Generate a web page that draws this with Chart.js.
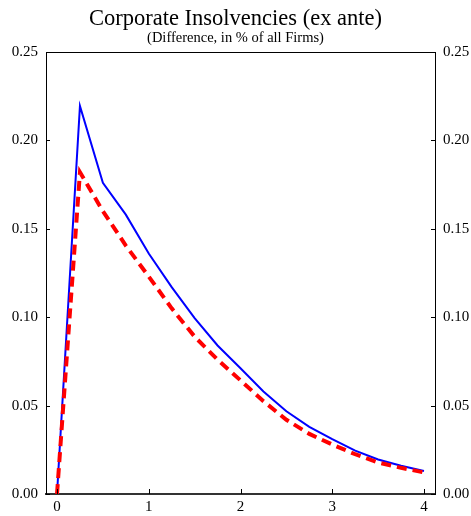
<!DOCTYPE html>
<html>
<head>
<meta charset="utf-8">
<script src="https://cdn.jsdelivr.net/npm/chart.js@4/dist/chart.umd.min.js"></script>
<style>
  html, body { margin: 0; padding: 0; background: #fff; }
  #wrap { width: 471px; height: 516px; }
</style>
</head>
<body>
<div id="wrap"><canvas id="insolvChart" width="471" height="516"></canvas></div>
<script>
// horizonte en años (trimestral)
const horizon = [0, 0.25, 0.5, 0.75, 1, 1.25, 1.5, 1.75, 2, 2.25, 2.5, 2.75, 3, 3.25, 3.5, 3.75, 4];
// serie azul (línea continua)
const blueSeries = [0, 0.2195, 0.176, 0.158, 0.136, 0.117, 0.0995, 0.084, 0.0711, 0.058, 0.0468, 0.038, 0.031, 0.0245, 0.0195, 0.016, 0.013];
// serie roja (línea discontinua)
const redSeries = [0, 0.182, 0.160, 0.1405, 0.123, 0.105, 0.089, 0.076, 0.0643, 0.0525, 0.042, 0.034, 0.028, 0.0225, 0.0178, 0.0148, 0.0122];
const xTicks = [0, 1, 2, 3, 4];
const yTicks = [0, 0.05, 0.10, 0.15, 0.20, 0.25];

const serif = "'Liberation Serif', 'DejaVu Serif', serif";

function toPoints(vals) {
  return horizon.map((x, i) => ({ x: x, y: vals[i] }));
}

// marcas hacia adentro y borde superior
const frameTicks = {
  id: "frameTicks",
  afterDatasetsDraw(chart) {
    const ctx = chart.ctx;
    const a = chart.chartArea;
    ctx.save();
    ctx.strokeStyle = "#000";
    ctx.lineWidth = 1;
    ctx.beginPath();
    ctx.moveTo(a.left, a.top + 0.5);
    ctx.lineTo(a.right, a.top + 0.5);
    const yl = chart.scales.y;
    yTicks.forEach((v) => {
      const py = Math.round(yl.getPixelForValue(v)) + 0.5;
      ctx.moveTo(a.left, py);
      ctx.lineTo(a.left + 4, py);
      ctx.moveTo(a.right, py);
      ctx.lineTo(a.right - 4, py);
    });
    const xs = chart.scales.x;
    xTicks.forEach((v) => {
      const px = Math.round(xs.getPixelForValue(v)) + 0.5;
      ctx.moveTo(px, a.bottom);
      ctx.lineTo(px, a.bottom - 5);
    });
    ctx.stroke();
    ctx.restore();
  },
};

const ctx = document.getElementById("insolvChart").getContext("2d");
const insolvChart = new Chart(ctx, {
  type: "line",
  data: {
    datasets: [
      {
        label: "ex ante (rojo)",
        data: toPoints(redSeries),
        borderColor: "#ff0000",
        borderWidth: 4,
        borderDash: [10, 6],
        pointRadius: 0,
        fill: false,
        tension: 0,
      },
      {
        label: "ex ante (azul)",
        data: toPoints(blueSeries),
        borderColor: "#0000ff",
        borderWidth: 2,
        pointRadius: 0,
        fill: false,
        tension: 0,
      },
    ],
  },
  options: {
    responsive: false,
    animation: false,
    devicePixelRatio: 1,
    layout: { padding: { left: 0, right: 0, top: 0, bottom: 0 } },
    plugins: {
      legend: { display: false },
      tooltip: { enabled: false },
      title: {
        display: true,
        text: "Corporate Insolvencies (ex ante)",
        color: "#000",
        font: { family: serif, size: 22.5, weight: "normal", lineHeight: 1.0 },
        padding: { top: 8, bottom: 0 },
      },
      subtitle: {
        display: true,
        text: "(Difference, in % of all Firms)",
        color: "#000",
        font: { family: serif, size: 14.5, weight: "normal", lineHeight: 1.0 },
        padding: { top: 0, bottom: 7 },
      },
    },
    scales: {
      x: {
        type: "linear",
        position: "bottom",
        min: -0.12,
        max: 4.12,
        afterBuildTicks: (s) => { s.ticks = xTicks.map((v) => ({ value: v })); },
        afterFit: (s) => { s.height = 22; },
        grid: { display: false, drawTicks: false },
        border: { display: true, color: "#333", width: 2 },
        ticks: {
          color: "#000",
          padding: 4,
          maxRotation: 0,
          font: { family: serif, size: 15 },
          callback: (v) => String(v),
        },
      },
      y: {
        type: "linear",
        position: "left",
        min: 0,
        max: 0.25,
        afterBuildTicks: (s) => { s.ticks = yTicks.map((v) => ({ value: v })); },
        afterFit: (s) => { s.width = 46; },
        grid: { display: false, drawTicks: false },
        border: { display: true, color: "#000", width: 1 },
        ticks: {
          color: "#000",
          padding: 8,
          font: { family: serif, size: 15 },
          callback: (v) => Number(v).toFixed(2),
        },
      },
      y2: {
        type: "linear",
        position: "right",
        min: 0,
        max: 0.25,
        afterBuildTicks: (s) => { s.ticks = yTicks.map((v) => ({ value: v })); },
        afterFit: (s) => { s.width = 36; },
        grid: { display: false, drawTicks: false },
        border: { display: true, color: "#000", width: 1 },
        ticks: {
          color: "#000",
          padding: 8,
          font: { family: serif, size: 15 },
          callback: (v) => Number(v).toFixed(2),
        },
      },
    },
  },
  plugins: [frameTicks],
});
</script>
</body>
</html>
